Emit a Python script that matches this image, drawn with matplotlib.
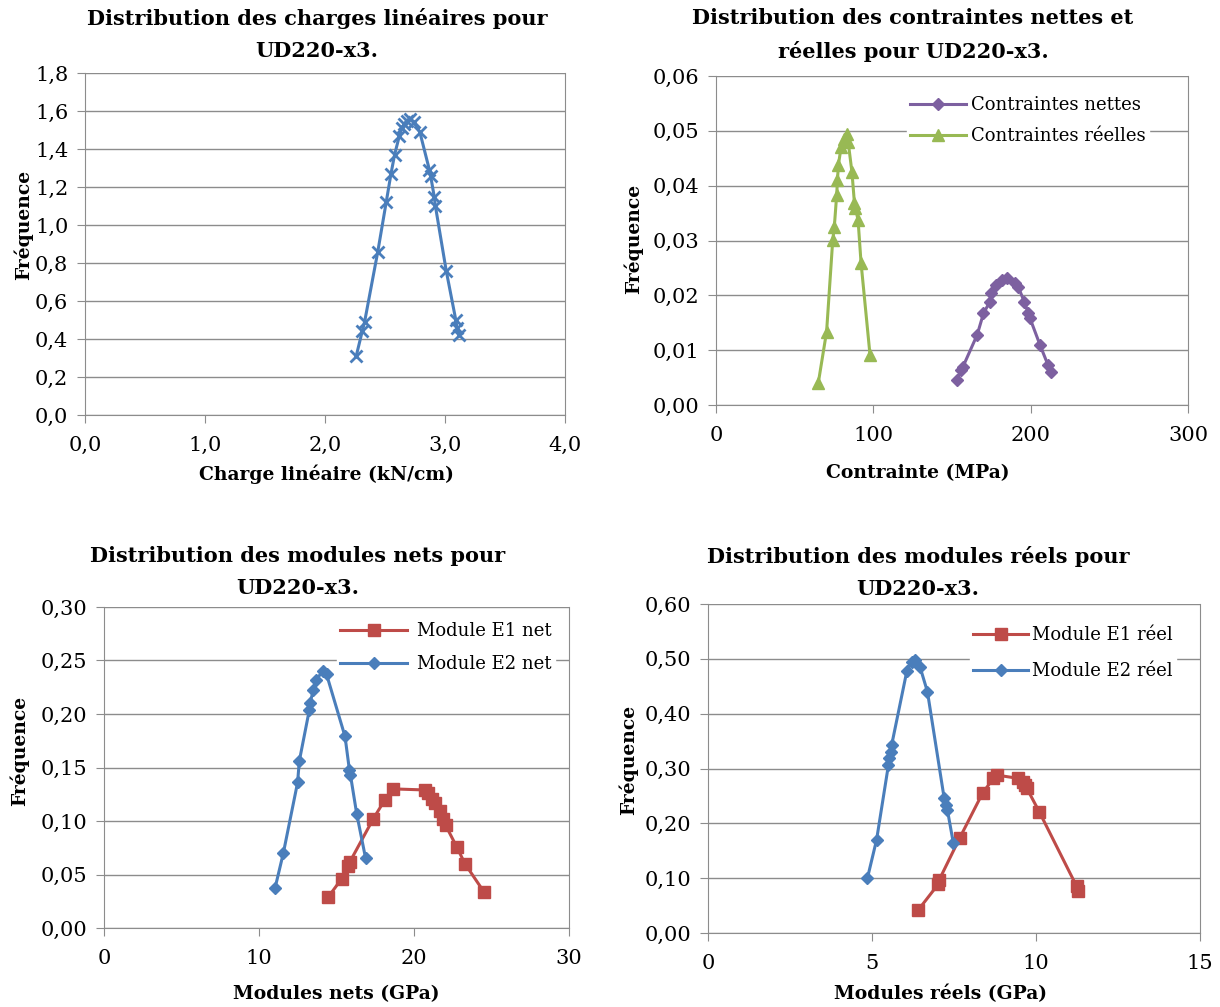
import matplotlib
matplotlib.use("Agg")
import matplotlib.pyplot as plt
from matplotlib.ticker import FuncFormatter, MultipleLocator

# --- data ---
charge_x = [2.26, 2.31, 2.33, 2.44, 2.51, 2.55, 2.58, 2.62, 2.64, 2.66, 2.68,
            2.71, 2.74, 2.79, 2.87, 2.88, 2.91, 2.92, 3.01, 3.09, 3.10, 3.12]
charge_y = [0.31, 0.44, 0.49, 0.86, 1.12, 1.27, 1.37, 1.47, 1.51, 1.53, 1.55,
            1.56, 1.54, 1.49, 1.29, 1.26, 1.15, 1.10, 0.76, 0.50, 0.46, 0.42]

nettes_x = [153, 156, 157, 166, 170, 174, 175, 178, 182, 185, 190, 192,
            196, 198.5, 199.6, 206, 211, 213]
nettes_y = [0.0046, 0.0064, 0.0070, 0.0128, 0.0167, 0.0188, 0.0204, 0.0219,
            0.0228, 0.0231, 0.0222, 0.0216, 0.0188, 0.0167, 0.0158, 0.0109,
            0.0073, 0.0061]
reelles_x = [65, 70.3, 74.2, 75.2, 76.7, 77.2, 77.8, 79.5, 81.5, 83.0, 84.0,
             86.4, 88.0, 88.6, 90.3, 92.2, 97.9]
reelles_y = [0.0040, 0.0134, 0.0301, 0.0325, 0.0383, 0.0410, 0.0438, 0.0470,
             0.0485, 0.0495, 0.0480, 0.0425, 0.0368, 0.0360, 0.0337, 0.0259,
             0.0091]

e1_net_x = [14.47, 15.33, 15.76, 15.87, 17.37, 18.13, 18.67, 20.7, 20.9, 21.14,
            21.35, 21.68, 21.89, 22.04, 22.75, 23.29, 24.5]
e1_net_y = [0.029, 0.046, 0.058, 0.062, 0.102, 0.120, 0.130, 0.129, 0.126,
            0.121, 0.117, 0.109, 0.102, 0.096, 0.076, 0.060, 0.034]
e2_net_x = [11.03, 11.57, 12.49, 12.6, 13.25, 13.29, 13.5, 13.7, 14.1, 14.36,
            15.55, 15.83, 15.9, 16.3, 16.88]
e2_net_y = [0.037, 0.070, 0.136, 0.156, 0.204, 0.210, 0.222, 0.232, 0.240,
            0.237, 0.179, 0.148, 0.143, 0.107, 0.065]

e1_reel_x = [6.41, 7.02, 7.05, 7.68, 8.37, 8.70, 8.80, 9.46, 9.61, 9.66, 9.72,
             10.10, 11.24, 11.29]
e1_reel_y = [0.042, 0.089, 0.097, 0.174, 0.255, 0.282, 0.288, 0.282, 0.276,
             0.270, 0.264, 0.221, 0.085, 0.076]
e2_reel_x = [4.86, 5.14, 5.50, 5.53, 5.57, 5.60, 6.06, 6.21, 6.31, 6.46, 6.69,
             7.20, 7.26, 7.30, 7.48]
e2_reel_y = [0.100, 0.170, 0.306, 0.319, 0.331, 0.343, 0.477, 0.495, 0.498,
             0.486, 0.440, 0.246, 0.234, 0.224, 0.164]

BLUE = "#4A7EBB"
RED = "#BE4B48"
PURPLE = "#7D60A0"
GREEN = "#98B954"
GRID = "#8C8C8C"

plt.rcParams["font.family"] = ["DejaVu Serif"]
TITLE_FONT = dict(family=["DejaVu Serif"], weight="bold", size=15)
LABEL_FONT = dict(family=["DejaVu Serif"], weight="bold", size=13.5)


def comma(decimals):
    return FuncFormatter(lambda v, p: f"{v:.{decimals}f}".replace(".", ","))


def style_axes(ax, xmax, xstep, xdec, ymax, ystep, ydec):
    ax.set_xlim(0, xmax)
    ax.set_ylim(0, ymax)
    ax.xaxis.set_major_locator(MultipleLocator(xstep))
    ax.yaxis.set_major_locator(MultipleLocator(ystep))
    ax.xaxis.set_major_formatter(comma(xdec))
    ax.yaxis.set_major_formatter(comma(ydec))
    ax.grid(axis="y", color=GRID, linewidth=1.0)
    ax.set_axisbelow(True)
    for side in ("left", "bottom", "right"):
        ax.spines[side].set_color(GRID)
    ax.spines["top"].set_visible(False)
    ax.tick_params(colors=GRID, labelcolor="black", labelsize=15,
                   length=6, direction="out", pad=6)
    ax.tick_params(axis="x", pad=9)


fig = plt.figure(figsize=(12.2, 10.07), dpi=100)
W, H = 1220, 1007


def add_ax(x0, y0, x1, y1):
    return fig.add_axes([x0 / W, 1 - y1 / H, (x1 - x0) / W, (y1 - y0) / H])


ax1 = add_ax(85, 73, 565, 415)
ax2 = add_ax(716, 76, 1188, 405)
ax3 = add_ax(104, 607, 569, 928)
ax4 = add_ax(708, 604, 1200, 933)

lw = 2.2
ax1.plot(charge_x, charge_y, color=BLUE, lw=lw, marker="x", ms=9, mew=2)
style_axes(ax1, 4.0, 1.0, 1, 1.8, 0.2, 1)

ax2.plot(nettes_x, nettes_y, color=PURPLE, lw=lw, marker="D", ms=6,
         label="Contraintes nettes")
ax2.plot(reelles_x, reelles_y, color=GREEN, lw=lw, marker="^", ms=8,
         label="Contraintes réelles")
style_axes(ax2, 300, 100, 0, 0.06, 0.01, 2)

ax3.plot(e1_net_x, e1_net_y, color=RED, lw=lw, marker="s", ms=8,
         label="Module E1 net")
ax3.plot(e2_net_x, e2_net_y, color=BLUE, lw=lw, marker="D", ms=6,
         label="Module E2 net")
style_axes(ax3, 30, 10, 0, 0.30, 0.05, 2)

ax4.plot(e1_reel_x, e1_reel_y, color=RED, lw=lw, marker="s", ms=8,
         label="Module E1 réel")
ax4.plot(e2_reel_x, e2_reel_y, color=BLUE, lw=lw, marker="D", ms=6,
         label="Module E2 réel")
style_axes(ax4, 15, 5, 0, 0.60, 0.10, 2)

# axis labels: (text, x label x, x label y, y label x, y label y) in axes coords
labels = [
    (ax1, "Charge linéaire (kN/cm)", 0.502, -0.144, -0.108, 0.556),
    (ax2, "Contrainte (MPa)", 0.428, -0.181, -0.155, 0.505),
    (ax3, "Modules nets (GPa)", 0.500, -0.177, -0.161, 0.551),
    (ax4, "Modules réels (GPa)", 0.472, -0.157, -0.142, 0.526),
]
for ax, xl, xx, xy, yx, yy in labels:
    ax.set_xlabel(xl, **LABEL_FONT)
    ax.set_ylabel("Fréquence", **LABEL_FONT)
    ax.xaxis.set_label_coords(xx, xy)
    ax.yaxis.set_label_coords(yx, yy)

# legends: anchor (upper left), handle length, text pad, row spacing
legends = [
    (ax2, (0.404, 0.950), 3.1, 0.25, 0.72),
    (ax3, (0.500, 0.963), 3.7, 0.55, 0.82),
    (ax4, (0.532, 0.943), 3.05, 0.2, 1.0),
]
for ax, anchor, hl, htp, ls in legends:
    ax.legend(loc="upper left", bbox_to_anchor=anchor, borderaxespad=0,
              borderpad=0.2, frameon=True, fancybox=False, framealpha=1,
              edgecolor="white", numpoints=1, handlelength=hl,
              handletextpad=htp, labelspacing=ls,
              prop=dict(family=["DejaVu Serif"], size=13))

titles = [
    (317, 8, "Distribution des charges linéaires pour\nUD220-x3."),
    (913, 8, "Distribution des contraintes nettes et\nréelles pour UD220-x3."),
    (298, 546, "Distribution des modules nets pour\nUD220-x3."),
    (918, 546, "Distribution des modules réels pour\nUD220-x3."),
]
for cx, top, txt in titles:
    fig.text(cx / W, 1 - top / H, txt, ha="center", va="top",
             linespacing=1.75, **TITLE_FONT)

fig.savefig("out.png", dpi=100, facecolor="white")
